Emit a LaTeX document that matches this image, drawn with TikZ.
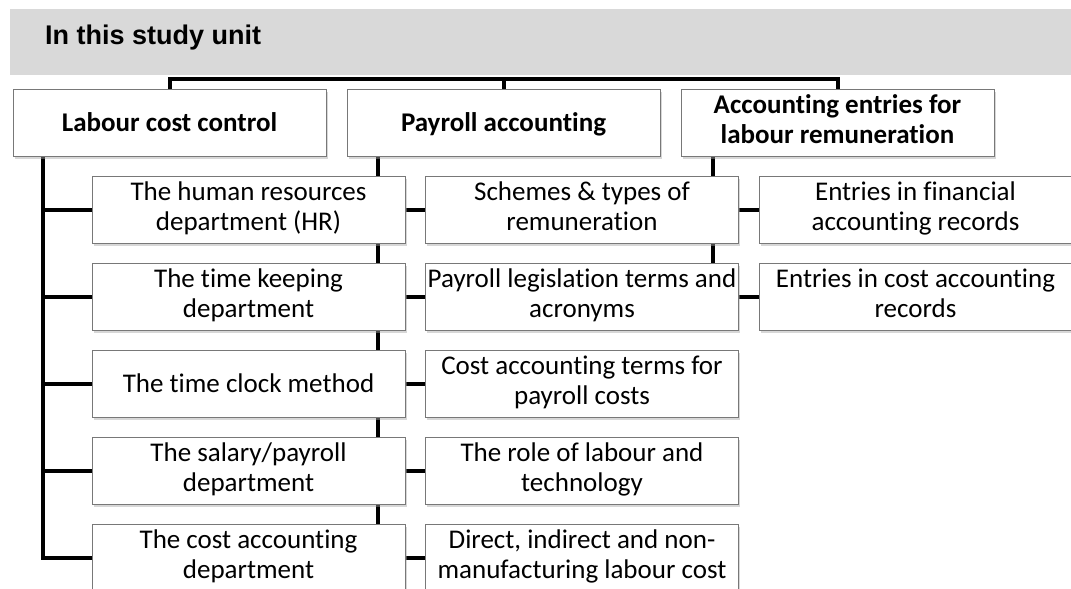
\documentclass[tikz,border=0pt]{standalone}
\usepackage{fontspec}
\setmainfont{Carlito}[Ligatures=NoCommon]
\newfontfamily\titlefont{Liberation Sans}
\usetikzlibrary{shadows,backgrounds}
\definecolor{bannergray}{RGB}{217,217,217}
\definecolor{boxborder}{RGB}{120,120,120}
\newcommand\mytopstrut{\rule{0pt}{24pt}}
\newcommand\mybotstrut{\rule[-6pt]{0pt}{6pt}}
\begin{document}
\begin{tikzpicture}[x=1pt,y=-1pt,
  box/.style={draw=boxborder, line width=0.9pt, fill=white,
    minimum width=313pt, minimum height=67pt, inner sep=0pt, align=center,
    font=\fontsize{27}{30}\selectfont,
    execute at begin node=\mytopstrut, execute at end node=\mybotstrut,
    drop shadow={shadow xshift=1.5pt, shadow yshift=-2.5pt, fill=black!35, opacity=0.45}},
  head/.style={box, font=\fontsize{27}{30}\selectfont\bfseries},
  conn/.style={line width=4pt, black, line join=miter}]
\clip (0,0) rectangle (1071,589);
\useasboundingbox (0,0) rectangle (1071,589);
% banner
\fill[bannergray] (10,9) rectangle (1071,75);
\node[anchor=base west, inner sep=0pt, font=\titlefont\bfseries\fontsize{27}{30}\selectfont] (title) at (45,44) {In this study unit};
% top level
\node[head] (L) at (169.5,122.5) {Labour cost control};
\node[head] (P) at (503.5,122.5) {Payroll accounting};
\node[head] (A) at (837.5,122.5) {Accounting entries for\\labour remuneration};
% column 1
\node[box] (c11) at (248.5,209.5) {The human resources\\department (HR)};
\node[box] (c12) at (248.5,296.5) {The time keeping\\department};
\node[box] (c13) at (248.5,383.5) {The time clock method};
\node[box] (c14) at (248.5,470.5) {The salary/payroll\\department};
\node[box] (c15) at (248.5,557.5) {The cost accounting\\department};
% column 2
\node[box] (c21) at (582,209.5) {Schemes \& types of\\remuneration};
\node[box] (c22) at (582,296.5) {Payroll legislation terms and\\acronyms};
\node[box] (c23) at (582,383.5) {Cost accounting terms for\\payroll costs};
\node[box] (c24) at (582,470.5) {The role of labour and\\technology};
\node[box] (c25) at (582,557.5) {Direct, indirect and non-\\manufacturing labour cost};
% column 3
\node[box] (c31) at (915.5,209.5) {Entries in financial\\accounting records};
\node[box] (c32) at (915.5,296.5) {Entries in cost accounting\\records};
% trunk positions
\coordinate (bus) at (0,79);
\coordinate (lt) at (43,0);
\coordinate (mt) at (378,0);
\coordinate (rt) at (713,0);
\begin{scope}[on background layer]
  \draw[conn] (L.north) -- (L.north |- bus) -- (A.north |- bus) -- (A.north);
  \draw[conn] (P.north) -- (P.north |- bus);
  % left trunk
  \draw[conn] (L.south -| lt) -- (lt |- c15.west) -- (c15.west);
  \foreach \i in {1,2,3,4} \draw[conn] (lt |- c1\i.west) -- (c1\i.west);
  % middle trunk
  \draw[conn] (P.south -| mt) -- (mt |- c25.west) -- (c25.west);
  \foreach \i in {1,2,3,4} \draw[conn] (mt |- c2\i.west) -- (c2\i.west);
  % right trunk
  \draw[conn] (A.south -| rt) -- (rt |- c32.west) -- (c32.west);
  \draw[conn] (rt |- c31.west) -- (c31.west);
\end{scope}
\end{tikzpicture}
\end{document}
